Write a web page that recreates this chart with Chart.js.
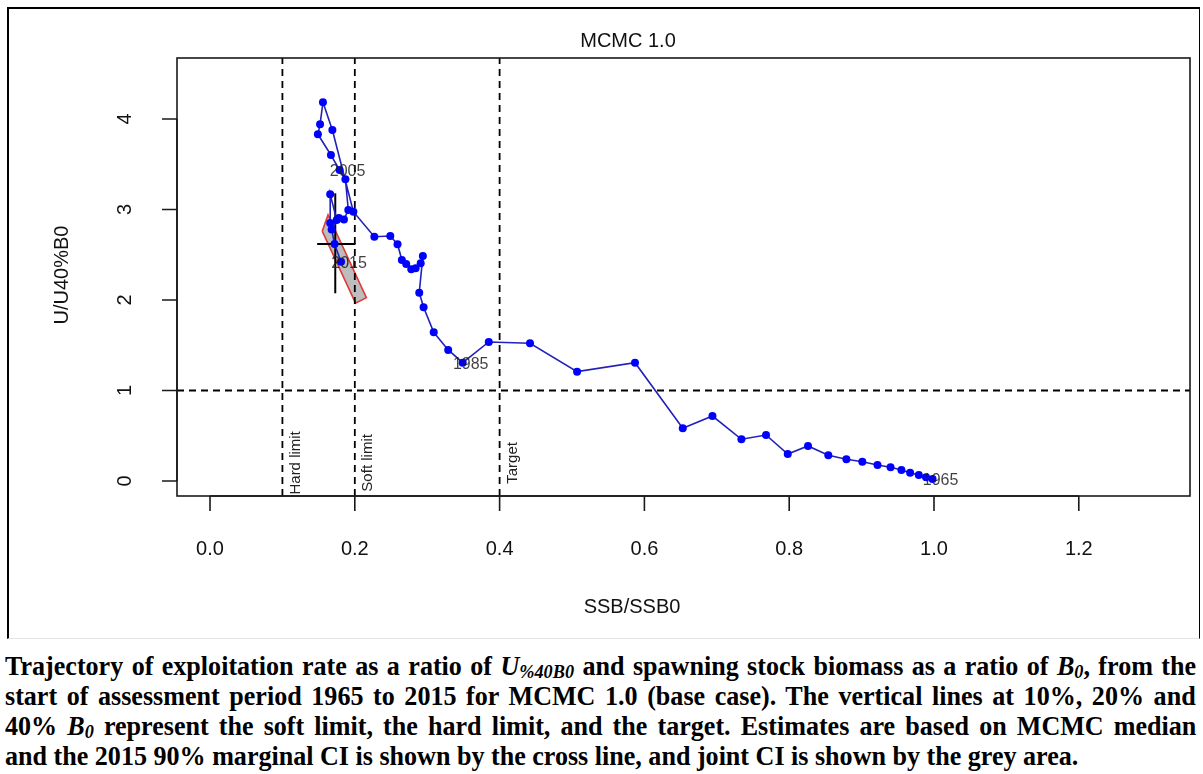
<!DOCTYPE html>
<html><head><meta charset="utf-8">
<script src="https://cdn.jsdelivr.net/npm/chart.js@4"></script>
<style>
html,body{margin:0;padding:0;background:#fff;width:1203px;height:774px;overflow:hidden;}
#frame{position:absolute;left:7px;top:7px;width:1193px;height:632px;border-left:2px solid #000;border-top:2px solid #000;border-right:1px solid #000;border-bottom:1px solid #e4e4e4;box-sizing:border-box;}
#wrap{position:absolute;left:0;top:0;width:1203px;height:640px;}
#caption{position:absolute;left:5px;top:651px;width:1191px;font-family:"Liberation Serif","Times New Roman",serif;font-weight:bold;font-size:27px;color:#000;}
.ln{height:30px;line-height:30px;white-space:nowrap;}
.ln span{display:inline-block;transform-origin:0 50%;}
sub{font-size:0.7em;vertical-align:-0.18em;line-height:0;}
</style></head>
<body>
<div id="frame"></div>
<div id="wrap"><canvas id="c" width="1203" height="640"></canvas></div>
<div id="caption">
<div class="ln"><span>Trajectory of exploitation rate as a ratio of <i>U<sub>%40B0</sub></i> and spawning stock biomass as a ratio of <i>B<sub>0</sub></i>, from the</span></div>
<div class="ln"><span>start of assessment period 1965 to 2015 for MCMC 1.0 (base case). The vertical lines at 10%, 20% and</span></div>
<div class="ln"><span>40% <i>B<sub>0</sub></i> represent the soft limit, the hard limit, and the target. Estimates are based on MCMC median</span></div>
<div class="ln"><span>and the 2015 90% marginal CI is shown by the cross line, and joint CI is shown by the grey area.</span></div>
</div>
<script>
// ---- data ----
const years = [];
for (let y = 1965; y <= 2015; y++) years.push(y);
const ssb = [
0.998,0.989,0.979,0.967,0.955,0.940,0.922,0.901,0.879,0.854,
0.826,0.798,0.768,0.734,0.694,0.653,0.587,0.507,0.442,0.385,
0.349,0.329,0.309,0.295,0.289,0.294,0.291,0.284,0.278,0.271,
0.265,0.259,0.249,0.227,0.198,0.169,0.156,0.152,0.149,0.167,
0.179,0.187,0.191,0.185,0.175,0.166,0.166,0.178,0.168,0.172,
0.181];
const uRatio = [
0.022,0.041,0.066,0.092,0.122,0.151,0.177,0.213,0.240,0.284,
0.387,0.298,0.508,0.461,0.718,0.582,1.307,1.208,1.522,1.536,
1.307,1.448,1.643,1.919,2.081,2.486,2.406,2.350,2.339,2.398,
2.442,2.616,2.707,2.699,2.976,3.878,4.185,3.941,3.831,3.602,
3.436,3.334,2.994,2.890,2.884,3.168,2.850,2.905,2.780,2.619,
2.423];
const labelYears = [1965, 1985, 2005, 2015];
const refLinesX = [0.1, 0.2, 0.4];
const refNames = ['Hard limit', 'Soft limit', 'Target'];
const refLineY = [1];
const refLabelY = 0.2;
const xTicks = [0, 0.2, 0.4, 0.6, 0.8, 1.0, 1.2];
const yTicks = [0, 1, 2, 3, 4];
const xRange = [-0.0456, 1.3536];
const yRange = [-0.166, 4.674];
const ciMarginalX = [0.148, 0.201];   // horizontal arm at median U
const ciMarginalY = [2.074, 3.179];   // vertical arm at median SSB
const ciMedian = [0.173, 2.619];
const jointX = [0.155, 0.163, 0.216, 0.201, 0.155];
const jointY = [2.760, 2.940, 2.025, 1.965, 2.760];

const FONT = '"Liberation Sans", Arial, sans-serif';

const traj = ssb.map((v, i) => ({x: v, y: uRatio[i]}));
const datasets = [];
datasets.push({data: traj, showLine: true, borderColor: '#2222b8', borderWidth: 1.6,
  pointRadius: 4, pointBackgroundColor: '#0000ff', pointBorderWidth: 0, tension: 0, order: 0});
datasets.push({data: ciMarginalX.map(v => ({x: v, y: ciMedian[1]})), showLine: true,
  borderColor: '#000', borderWidth: 2, pointRadius: 0, order: 1});
datasets.push({data: ciMarginalY.map(v => ({x: ciMedian[0], y: v})), showLine: true,
  borderColor: '#000', borderWidth: 2, pointRadius: 0, order: 1});
refLinesX.forEach(v => datasets.push({data: yRange.map(y => ({x: v, y})), showLine: true,
  borderColor: '#000', borderWidth: 1.8, borderDash: [7, 5], pointRadius: 0, order: 2}));
refLineY.forEach(v => datasets.push({data: xRange.map(x => ({x, y: v})), showLine: true,
  borderColor: '#000', borderWidth: 1.8, borderDash: [7, 5], pointRadius: 0, order: 2}));
datasets.push({data: jointX.map((v, i) => ({x: v, y: jointY[i]})), showLine: true,
  borderColor: '#e03a3a', borderWidth: 1.6, backgroundColor: '#bdbdbd', fill: 'shape',
  pointRadius: 0, order: 3});

const decor = {
  id: 'decor',
  afterDraw(chart) {
    const ctx = chart.ctx, a = chart.chartArea;
    const xs = chart.scales.x, ys = chart.scales.y;
    ctx.save();
    ctx.strokeStyle = '#1a1a1a'; ctx.lineWidth = 1.6;
    ctx.strokeRect(a.left, a.top, a.right - a.left, a.bottom - a.top);
    ctx.fillStyle = '#111'; ctx.font = '20px ' + FONT;
    ctx.textAlign = 'center'; ctx.textBaseline = 'middle';
    ctx.beginPath();
    ctx.moveTo(xs.getPixelForValue(xs.ticks[0].value), a.bottom);
    ctx.lineTo(xs.getPixelForValue(xs.ticks[xs.ticks.length - 1].value), a.bottom);
    xs.ticks.forEach(t => {
      const px = xs.getPixelForValue(t.value);
      ctx.moveTo(px, a.bottom); ctx.lineTo(px, a.bottom + 15);
      ctx.fillText(t.value.toFixed(1), px, a.bottom + 53);
    });
    ctx.moveTo(a.left, ys.getPixelForValue(ys.ticks[0].value));
    ctx.lineTo(a.left, ys.getPixelForValue(ys.ticks[ys.ticks.length - 1].value));
    ys.ticks.forEach(t => {
      const py = ys.getPixelForValue(t.value);
      ctx.moveTo(a.left, py); ctx.lineTo(a.left - 15, py);
      ctx.save(); ctx.translate(a.left - 52, py); ctx.rotate(-Math.PI / 2);
      ctx.fillText(String(t.value), 0, 0); ctx.restore();
    });
    ctx.stroke();
    ctx.fillText('MCMC 1.0', 628, 41);
    ctx.fillText('SSB/SSB0', 632, 607);
    ctx.save(); ctx.translate(62, 275); ctx.rotate(-Math.PI / 2);
    ctx.fillText('U/U40%B0', 0, 0); ctx.restore();
    ctx.font = '15px ' + FONT; ctx.fillStyle = '#222';
    refLinesX.forEach((v, i) => {
      ctx.save(); ctx.translate(xs.getPixelForValue(v) + 13, ys.getPixelForValue(refLabelY));
      ctx.rotate(-Math.PI / 2); ctx.fillText(refNames[i], 0, 0); ctx.restore();
    });
    ctx.font = '16px ' + FONT; ctx.fillStyle = 'rgba(30,30,30,0.85)';
    labelYears.forEach(yr => {
      const i = years.indexOf(yr);
      ctx.fillText(String(yr), xs.getPixelForValue(ssb[i]) + 8, ys.getPixelForValue(uRatio[i]) + 2);
    });
    ctx.restore();
  }
};

const axisCommon = {
  type: 'linear', display: true,
  grid: {display: false, drawTicks: false}, border: {display: false},
  ticks: {display: false}, title: {display: false}
};

new Chart(document.getElementById('c'), {
  type: 'scatter',
  data: {datasets},
  options: {
    responsive: false, animation: false, devicePixelRatio: 1,
    layout: {padding: {left: 177, top: 58, right: 13, bottom: 144}, autoPadding: false},
    plugins: {legend: {display: false}, tooltip: {enabled: false}, title: {display: false}},
    scales: {
      x: Object.assign({}, axisCommon, {min: xRange[0], max: xRange[1],
        afterBuildTicks: s => { s.ticks = xTicks.map(v => ({value: v})); }}),
      y: Object.assign({}, axisCommon, {min: yRange[0], max: yRange[1],
        afterBuildTicks: s => { s.ticks = yTicks.map(v => ({value: v})); }})
    }
  },
  plugins: [decor]
});

// caption: condensed serif, justified lines (last line left-aligned)
(function () {
  const spans = Array.from(document.querySelectorAll('#caption .ln span'));
  const full = 1191;
  const k = 0.5 * (full / spans[0].offsetWidth + 1040 / spans[3].offsetWidth);
  spans.forEach((s, i) => {
    s.style.transform = 'scaleX(' + k + ')';
    if (i < 3) {
      const w = s.offsetWidth;
      const n = (s.textContent.match(/ /g) || []).length;
      s.style.wordSpacing = ((full / k - w) / n) + 'px';
    }
  });
})();
</script>
</body></html>
